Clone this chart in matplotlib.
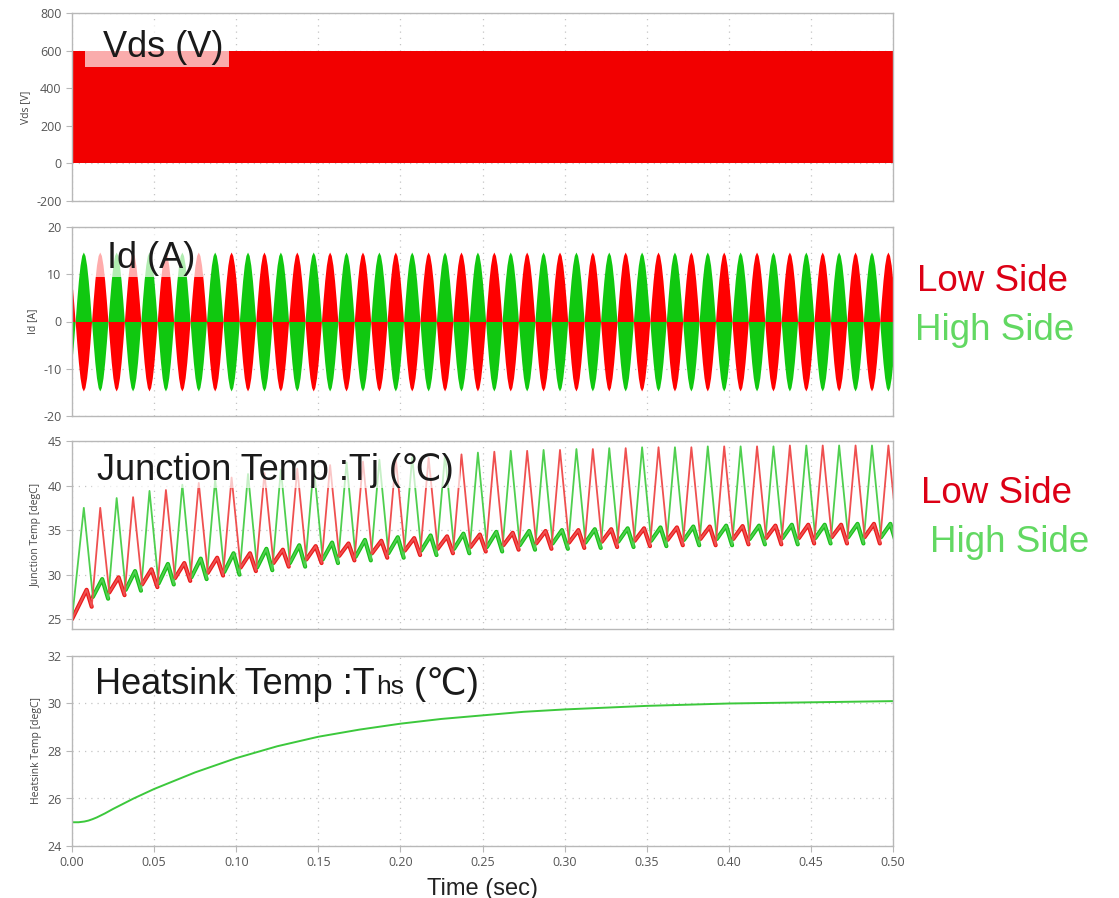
import numpy as np
import matplotlib
matplotlib.use("Agg")
import matplotlib.pyplot as plt
from matplotlib.patches import Rectangle
from matplotlib.ticker import MultipleLocator, FormatStrFormatter

W, H = 1119, 898

# ---------------- data ----------------
# Vds: switching between 0 and 600 V over the whole 0.5 s (solid red band)
VDS_TIME = [0.0, 0.5]
VDS_HIGH = [600, 600]
VDS_LOW = [0, 0]

# Id: half-sine lobes, 50 Hz, peak ~14.7 A, high side positive first
ID_AMPLITUDE = 14.7
ID_FIRST_LOBE = 0.0069
ID_HALF_PERIOD = 0.01
ID_SHAPE_T = [-0.005, -0.004, -0.003, -0.002, -0.001, 0.0, 0.001, 0.002, 0.003, 0.004, 0.005]
ID_SHAPE = [0.0, 0.31, 0.59, 0.81, 0.95, 1.0, 0.95, 0.81, 0.59, 0.31, 0.0]

# Junction temperature, one entry per 20 ms cycle
TJ_PERIOD = 0.02
TJ_KNEE_DT = 0.0055
TJ_BUMP_DT = 0.0112
TJ_DIP_DT = 0.0148

HIGH_FIRST_PEAK = 0.0072
HIGH_START_T = [0.0]
HIGH_START_V = [25.0]
HIGH_PEAKS = [37.5, 38.6, 39.4, 40.1, 40.7, 41.3, 41.8, 42.2, 42.6, 42.9, 43.2, 43.5, 43.7,
              43.9, 44.0, 44.1, 44.2, 44.3, 44.3, 44.4, 44.4, 44.4, 44.5, 44.5, 44.5]
HIGH_KNEES = [27.5, 28.3, 29.0, 29.7, 30.3, 30.8, 31.3, 31.7, 32.0, 32.4, 32.7, 32.9, 33.1,
              33.3, 33.5, 33.6, 33.7, 33.8, 33.9, 34.0, 34.0, 34.1, 34.1, 34.2, 34.2]
HIGH_BUMPS = [29.5, 30.4, 31.2, 31.8, 32.4, 32.9, 33.3, 33.6, 33.9, 34.2, 34.4, 34.6, 34.8,
              34.9, 35.0, 35.1, 35.2, 35.3, 35.4, 35.5, 35.5, 35.6, 35.6, 35.7, 35.7]
HIGH_DIPS = [27.3, 28.2, 28.9, 29.5, 30.0, 30.5, 30.9, 31.3, 31.6, 31.9, 32.2, 32.4, 32.6,
             32.8, 32.9, 33.0, 33.1, 33.2, 33.3, 33.3, 33.4, 33.4, 33.5, 33.5, 33.5]

LOW_FIRST_PEAK = 0.0172
LOW_START_T = [0.0, 0.0089, 0.012]
LOW_START_V = [25.0, 28.3, 26.4]
LOW_PEAKS = [37.5, 38.7, 39.5, 40.3, 40.9, 41.4, 41.9, 42.3, 42.7, 43.0, 43.1, 43.5, 43.8,
             43.9, 44.0, 44.1, 44.2, 44.3, 44.3, 44.4, 44.4, 44.5, 44.5, 44.5, 44.5]
LOW_KNEES = [28.0, 28.9, 29.6, 30.2, 30.8, 31.3, 31.7, 32.1, 32.4, 32.7, 32.9, 33.1, 33.3,
             33.5, 33.6, 33.7, 33.8, 33.9, 34.0, 34.0, 34.1, 34.1, 34.2, 34.2, 34.3]
LOW_BUMPS = [29.7, 30.6, 31.3, 31.9, 32.4, 32.8, 33.2, 33.5, 33.8, 34.1, 34.3, 34.5, 34.7,
             34.9, 35.0, 35.1, 35.2, 35.3, 35.4, 35.45, 35.5, 35.6, 35.6, 35.7, 35.7]
LOW_DIPS = [27.7, 28.6, 29.3, 29.9, 30.4, 30.9, 31.3, 31.6, 31.9, 32.2, 32.4, 32.6, 32.8,
            32.9, 33.0, 33.1, 33.2, 33.3, 33.3, 33.4, 33.4, 33.5, 33.5, 33.5, 33.6]

# Heatsink temperature
HS_TIME = [0.0, 0.004, 0.0075, 0.01, 0.0125, 0.015, 0.02, 0.025, 0.0375, 0.05, 0.075, 0.10,
           0.125, 0.15, 0.175, 0.20, 0.225, 0.25, 0.275, 0.30, 0.35, 0.40, 0.45, 0.50]
HS_TEMP = [25.0, 25.0, 25.03, 25.07, 25.13, 25.2, 25.37, 25.56, 26.0, 26.4, 27.1, 27.7,
           28.2, 28.6, 28.9, 29.15, 29.35, 29.5, 29.65, 29.75, 29.9, 30.0, 30.05, 30.1]

RED = "#f20000"
GRID = "#c4c4c4"
SPINE = "#b8b8b8"


def px(x, y):
    return x / W, 1 - y / H


def id_trace(sign_first):
    t, v = [], []
    for j in range(-1, 51):
        c = ID_FIRST_LOBE + j * ID_HALF_PERIOD
        s = sign_first if j % 2 == 0 else -sign_first
        for dt, f in zip(ID_SHAPE_T, ID_SHAPE):
            t.append(c + dt)
            v.append(s * ID_AMPLITUDE * f)
    return np.array(t), np.array(v)


def tj_trace(first_peak, start_t, start_v, peaks, knees, bumps, dips):
    t, v = list(start_t), list(start_v)
    thick = []
    if len(start_t) > 1:
        thick.append((list(start_t), list(start_v)))
    for k in range(len(peaks)):
        tp = first_peak + k * TJ_PERIOD
        t += [tp, tp + TJ_KNEE_DT, tp + TJ_BUMP_DT, tp + TJ_DIP_DT]
        v += [peaks[k], knees[k], bumps[k], dips[k]]
        thick.append(([tp + TJ_KNEE_DT, tp + TJ_BUMP_DT, tp + TJ_DIP_DT],
                      [knees[k], bumps[k], dips[k]]))
    return t, v, thick


plt.rcParams['font.family'] = ['Open Sans', 'DejaVu Sans']
plt.rcParams['axes.unicode_minus'] = False
fig = plt.figure(figsize=(W / 100, H / 100), dpi=100)

# axes boxes in pixels: (top, bottom)
rows = [(13, 201), (227, 416), (441, 629), (656, 846)]
left, right = 72, 893
axes = []
for top, bot in rows:
    x0, y0 = px(left, bot)
    ax = fig.add_axes([x0, y0, (right - left) / W, (bot - top) / H])
    axes.append(ax)

for i, ax in enumerate(axes):
    ax.set_xlim(0, 0.5)
    ax.xaxis.set_major_locator(MultipleLocator(0.05))
    ax.xaxis.set_major_formatter(FormatStrFormatter('%.2f'))
    ax.grid(True, color=GRID, linestyle=(0, (1, 4)), linewidth=0.9)
    ax.set_axisbelow(True)
    for sp in ax.spines.values():
        sp.set_color(SPINE)
        sp.set_linewidth(1.0)
    ax.tick_params(direction='out', length=4, color=SPINE, labelcolor='#555555', labelsize=9)
    if i < 3:
        ax.tick_params(axis='x', length=0, labelbottom=False)

# Vds
ax = axes[0]
ax.fill_between(VDS_TIME, VDS_LOW, VDS_HIGH, color=RED, linewidth=0)
ax.set_ylim(-200, 800)
ax.yaxis.set_major_locator(MultipleLocator(200))
ax.set_ylabel("Vds [V]", fontsize=7.5, color='#444444')

# Id
ax = axes[1]
tg, vg = id_trace(1)
tr, vr = id_trace(-1)
ax.fill_between(tg, 0, vg, color="#10c810", linewidth=0)
ax.fill_between(tr, 0, vr, color="#ff0000", linewidth=0)
ax.set_ylim(-20, 20)
ax.yaxis.set_major_locator(MultipleLocator(10))
ax.set_ylabel("Id [A]", fontsize=7.5, color='#444444')

# Junction temp
ax = axes[2]
th, vh, thick_h = tj_trace(HIGH_FIRST_PEAK, HIGH_START_T, HIGH_START_V,
                           HIGH_PEAKS, HIGH_KNEES, HIGH_BUMPS, HIGH_DIPS)
tl, vl, thick_l = tj_trace(LOW_FIRST_PEAK, LOW_START_T, LOW_START_V,
                           LOW_PEAKS, LOW_KNEES, LOW_BUMPS, LOW_DIPS)
for seg_t, seg_v in thick_h:
    ax.plot(seg_t, seg_v, color="#18c018", linewidth=3.0, solid_capstyle='round',
            solid_joinstyle='round')
for seg_t, seg_v in thick_l:
    ax.plot(seg_t, seg_v, color="#ea1a1a", linewidth=3.0, solid_capstyle='round',
            solid_joinstyle='round')
ax.plot(th, vh, color="#4fcf4f", linewidth=1.3, solid_joinstyle='round')
ax.plot(tl, vl, color="#ef5050", linewidth=1.3, solid_joinstyle='round')
ax.set_ylim(23.9, 45)
ax.set_yticks([25, 30, 35, 40, 45])
ax.set_ylabel("Junction Temp [degC]", fontsize=7.5, color='#444444')

# Heatsink temp
ax = axes[3]
ax.plot(HS_TIME, HS_TEMP, color="#3cc83c", linewidth=1.4)
ax.set_ylim(24, 32)
ax.yaxis.set_major_locator(MultipleLocator(2))
ax.set_ylabel("Heatsink Temp [degC]", fontsize=7.5, color='#444444')
ax.set_xlabel("Time (sec)", fontsize=17, color='#222222', family=['Liberation Sans', 'DejaVu Sans'],
              labelpad=6)

# translucent white boxes behind the overlay titles
for x0, y0, x1, y1 in [(85, 22, 229, 67), (90, 233, 203, 277), (92, 448, 460, 488)]:
    bx, by = px(x0, y1)
    fig.add_artist(Rectangle((bx, by), (x1 - x0) / W, (y1 - y0) / H, transform=fig.transFigure,
                             facecolor='white', alpha=0.68, edgecolor='none', zorder=5))

title_font = ['Liberation Sans', 'DejaVu Sans']
tkw = dict(fontsize=26, color='#1a1a1a', family=title_font, va='baseline', ha='left', zorder=6)
fig.text(*px(103, 57), "Vds (V)", **tkw)
fig.text(*px(107, 268), "Id (A)", **tkw)
fig.text(*px(97, 480), "Junction Temp :Tj (\u2103)", **tkw)

# heatsink title: "hs" in a smaller size on the same baseline
renderer = fig.canvas.get_renderer()
bx, base = px(95, 694)
t1 = fig.text(bx, base, "Heatsink Temp :T", **tkw)
x_end = fig.transFigure.inverted().transform(t1.get_window_extent(renderer))[1, 0]
t2 = fig.text(x_end + 1 / W, base, "hs", **dict(tkw, fontsize=19))
x_end = fig.transFigure.inverted().transform(t2.get_window_extent(renderer))[1, 0]
fig.text(x_end, base, " (\u2103)", **tkw)

# side labels
skw = dict(fontsize=26.5, family=title_font, va='baseline', ha='left')
fig.text(*px(917, 291), "Low Side", color="#dc0015", **skw)
fig.text(*px(915, 340), "High Side", color="#62d862", **skw)
fig.text(*px(921, 503), "Low Side", color="#dc0015", **skw)
fig.text(*px(930, 552), "High Side", color="#62d862", **skw)

fig.savefig("out.png", dpi=100)
